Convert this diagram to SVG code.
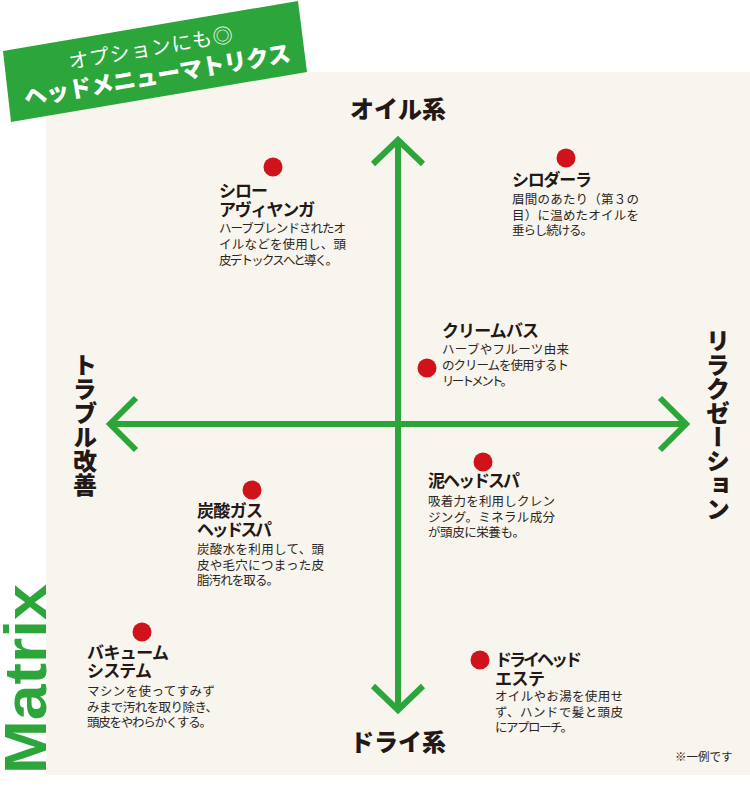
<svg xmlns="http://www.w3.org/2000/svg" width="750" height="800" viewBox="0 0 750 800">
<style>
.jp{font-family:"Noto Sans CJK JP","Noto Sans",sans-serif}
.blk{font-family:"Noto Sans CJK JP",sans-serif;font-size:12.5px;fill:#2b2522}
.ttl{font-size:17px;font-weight:700;fill:#231815}
.axis{font-family:"Noto Sans CJK JP",sans-serif;font-size:24px;font-weight:900;fill:#231815}
.dot{fill:#d0121b}
.ax{fill:none;stroke:#2ca63a;stroke-width:6;stroke-linejoin:miter;stroke-linecap:butt}
</style>
<rect width="750" height="800" fill="#ffffff"/>
<rect x="46" y="72" width="704" height="703" fill="#f8f5ee"/>

<g id="banner">
<polygon points="3,51 298,1 307,72 11,122" fill="#2ca63a"/>
<text transform="translate(3,51) rotate(-9.6)" class="jp" fill="#fff" text-anchor="middle"><tspan x="146" y="29" font-size="20" textLength="166">オプションにも◎</tspan><tspan x="148" y="58" font-size="23" font-weight="900" textLength="270">ヘッドメニューマトリクス</tspan></text>
</g>

<g id="matrix-label">
<text transform="translate(45.5,774) rotate(-90)" x="0" y="0" font-family="'Liberation Sans',Arial,sans-serif" font-weight="700" font-size="59" fill="#2ca63a" textLength="190" lengthAdjust="spacingAndGlyphs">Matrix</text>
</g>

<g id="connectors">
<line class="ax" x1="398" y1="141" x2="398" y2="708"/>
<line class="ax" x1="111" y1="424" x2="685" y2="424"/>
<polyline class="ax" points="373,164 398,140 423,164"/>
<polyline class="ax" points="373,686 398,710 423,686"/>
<polyline class="ax" points="136,398 110,424 136,450"/>
<polyline class="ax" points="660,398 686,424 660,450"/>
</g>

<g id="label-oil"><text class="axis" x="398" y="118" text-anchor="middle">オイル系</text></g>
<g id="label-dry"><text class="axis" x="398" y="751" text-anchor="middle">ドライ系</text></g>
<g id="label-relax"><text class="axis" x="718" y="425" text-anchor="middle" style="writing-mode:vertical-rl">リラクゼーション</text></g>
<g id="label-trouble"><text class="axis" x="85" y="425" text-anchor="middle" style="writing-mode:vertical-rl">トラブル改善</text></g>

<g id="node-shiro">
<circle class="dot" cx="273" cy="167" r="9.5"/>
<text class="blk"><tspan class="ttl" x="219" y="197" textLength="49">シロー</tspan><tspan class="ttl" x="219" y="216" textLength="96">アヴィヤンガ</tspan><tspan x="219" y="233" textLength="127">ハーブブレンドされたオ</tspan><tspan x="219" y="249" textLength="127">イルなどを使用し、頭</tspan><tspan x="219" y="265" textLength="119">皮デトックスへと導く。</tspan></text>
</g>

<g id="node-shirodhara">
<circle class="dot" cx="566" cy="158" r="9.5"/>
<text class="blk"><tspan class="ttl" x="512" y="186" textLength="80">シロダーラ</tspan><tspan x="512" y="204" textLength="127">眉間のあたり（第３の</tspan><tspan x="512" y="219.5" textLength="127">目）に温めたオイルを</tspan><tspan x="512" y="235" textLength="81">垂らし続ける。</tspan></text>
</g>

<g id="node-cream">
<circle class="dot" cx="427" cy="368" r="9.5"/>
<text class="blk"><tspan class="ttl" x="442" y="337" textLength="97">クリームバス</tspan><tspan x="442" y="354" textLength="127">ハーブやフルーツ由来</tspan><tspan x="442" y="370" textLength="127">のクリームを使用するト</tspan><tspan x="442" y="386" textLength="71">リートメント。</tspan></text>
</g>

<g id="node-mud">
<circle class="dot" cx="483" cy="462" r="9.5"/>
<text class="blk"><tspan class="ttl" x="428" y="487" textLength="92">泥ヘッドスパ</tspan><tspan x="428" y="506" textLength="127">吸着力を利用しクレン</tspan><tspan x="428" y="521.5" textLength="127">ジング。ミネラル成分</tspan><tspan x="428" y="537" textLength="97">が頭皮に栄養も。</tspan></text>
</g>

<g id="node-carbonic">
<circle class="dot" cx="252" cy="490" r="9.5"/>
<text class="blk"><tspan class="ttl" x="197" y="517" textLength="66">炭酸ガス</tspan><tspan class="ttl" x="197" y="536" textLength="75">ヘッドスパ</tspan><tspan x="197" y="554" textLength="127">炭酸水を利用して、頭</tspan><tspan x="197" y="569.5" textLength="127">皮や毛穴につまった皮</tspan><tspan x="197" y="585" textLength="82">脂汚れを取る。</tspan></text>
</g>

<g id="node-vacuum">
<circle class="dot" cx="142" cy="632" r="9.5"/>
<text class="blk"><tspan class="ttl" x="87" y="659" textLength="82">バキューム</tspan><tspan class="ttl" x="87" y="677" textLength="65">システム</tspan><tspan x="87" y="696" textLength="128">マシンを使ってすみず</tspan><tspan x="87" y="711.5" textLength="131">みまで汚れを取り除き、</tspan><tspan x="87" y="727" textLength="125">頭皮をやわらかくする。</tspan></text>
</g>

<g id="node-dryhead">
<circle class="dot" cx="480" cy="660" r="9.5"/>
<text class="blk"><tspan class="ttl" x="495" y="666" textLength="87">ドライヘッド</tspan><tspan class="ttl" x="495" y="685" textLength="50">エステ</tspan><tspan x="495" y="701" textLength="128">オイルやお湯を使用せ</tspan><tspan x="495" y="717" textLength="128">ず、ハンドで髪と頭皮</tspan><tspan x="495" y="732" textLength="78">にアプローチ。</tspan></text>
</g>

<g id="note"><text class="jp" x="675" y="761" font-size="11.5" fill="#2b2522">※一例です</text></g>
</svg>
